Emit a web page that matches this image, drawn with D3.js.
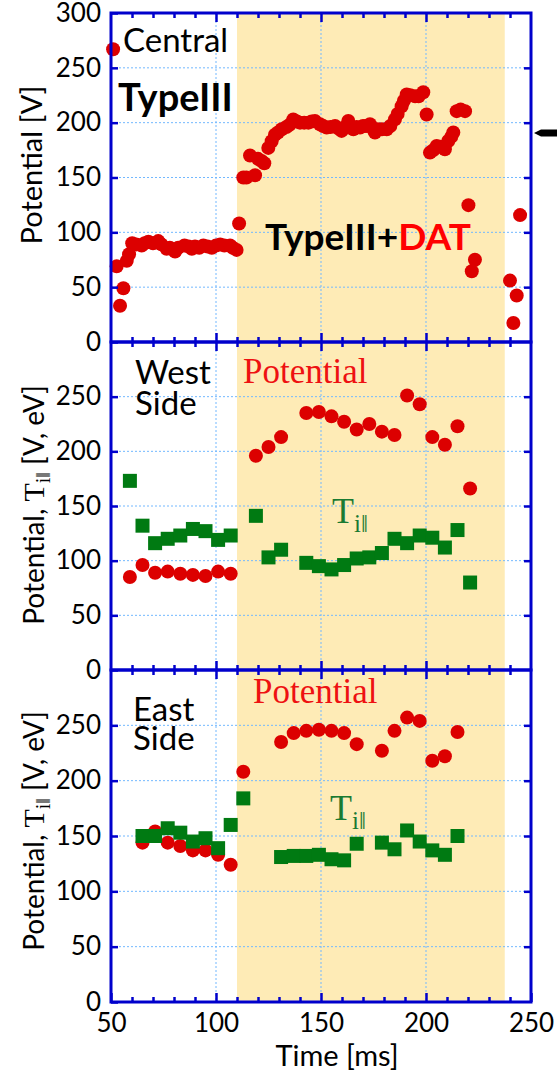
<!DOCTYPE html>
<html>
<head>
<meta charset="utf-8">
<script src="https://cdn.jsdelivr.net/npm/d3@7"></script>
<style>
  body { margin: 0; background: #fff; }
  svg { display: block; }
</style>
</head>
<body>
<svg id="chart" width="557" height="1074"></svg>
<script>
// ── Data ──
const centralT = [51, 52.7, 54.3, 55.9, 57.5, 58.6, 60.1, 62, 64.6, 66, 67.8, 70, 72.5, 74, 76.5, 78, 80.5, 82, 85, 87,
  88.5, 90, 92, 94, 96, 98, 100, 102, 104, 106.7, 108, 109.8, 111, 113, 114.5, 116.2, 118.6, 120, 121.7, 123,
  124.9, 126.5, 128.1, 129.5, 131.3, 133.5, 135, 136.8, 138.5, 140, 142, 144, 145.5, 147.1, 149.5, 151, 152.7, 154.5, 156.7, 158,
  159.8, 161.5, 163, 165.4, 167, 168.6, 170, 171.5, 173.3, 174.9, 175.7, 177, 179, 181.3, 183, 185.2, 186.5, 188.4, 189.5, 190.8,
  192.5, 194.8, 196.5, 198.7, 200.3, 201.9, 203.5, 205.1, 207, 209, 210.6, 212, 213, 214.6, 216.5, 218.6, 220.2, 221.8, 223.3,
  240, 241.6, 243.2, 244.8];
const centralV = [267, 69, 33, 49, 74, 80, 90, 89, 88, 90, 91.5, 90, 92, 89, 85, 86, 82.5, 86, 88, 87,
  85, 87, 86, 88, 87, 86, 88, 89, 88, 88, 86, 84, 108, 150, 150, 170, 152, 167, 165, 163,
  177, 183, 189, 191, 194, 196, 198, 203, 201, 200, 200, 200, 201, 201.5, 198.5, 197, 195.5, 196, 197, 195,
  192.5, 196, 201.5, 194, 196, 195.5, 197, 197, 198.5, 194, 191, 194, 194, 194, 197, 203, 208, 215, 220, 225.7,
  225, 224, 224, 227.8, 207.5, 172.7, 175, 178.8, 178, 175.7, 183.3, 187, 191, 210.5, 212, 210.5, 124.8, 64.5, 75,
  56, 17.3, 42.4, 115.7];

const westT   = [59, 65, 71, 77, 83, 89, 95, 101, 107, 119, 125, 131, 143, 149, 155, 161, 167, 173, 179, 185, 191, 197, 203, 209, 215, 221];
const westPot = [85, 96, 89, 90, 88, 87, 86, 90, 88, 196, 204, 213, 235, 236, 232, 227, 220, 225, 218, 215, 251, 243, 213, 206, 223, 166];
const westTi  = [173, 132, 116, 120, 123, 129, 127, 119, 123, 141, 103, 110, 98, 95, 92, 96, 102, 103, 107, 120, 116, 123, 121, 112, 128, 80];

const eastT   = [65, 71, 77, 83, 89, 95, 101, 107, 113, 131, 137, 143, 149, 155, 161, 167, 179, 185, 191, 197, 203, 209, 215];
const eastPot = [144, 154, 144, 141, 137, 137, 133, 124, 208, 235, 243, 245, 246, 245, 243, 233, 227, 245, 257, 254, 218, 222, 244];
const eastTi  = [150, 150, 157, 153, 145, 148, 139, 160, 184, 131, 132, 132, 133, 129, 128, 143, 144, 138, 155, 145, 137, 133, 150];

const datWindow = [110, 237.5];          // shaded TypeIII+DAT period [ms]
const xMajor = [50, 100, 150, 200, 250];
const xMinor = d3.range(60, 250, 10).filter(v => v % 50 !== 0);
const xGrid = [100, 150, 200];
const yGrid = [50, 100, 150, 200, 250];

// ── Styles ──
const BLUE = '#0000cc', RED = '#dc0000', GREEN = '#007a12';
const SANS = 'Lato, "Open Sans", sans-serif';
const SERIF = '"Liberation Serif", "DejaVu Serif", serif';

const svg = d3.select('#chart');
const x = d3.scaleLinear().domain([50, 250]).range([111, 531]);

const panels = [
  { key: 'central', top: 13, bottom: 342, yTicks: [0, 50, 100, 150, 200, 250, 300] },
  { key: 'west', top: 342, bottom: 670, yTicks: [0, 50, 100, 150, 200, 250] },
  { key: 'east', top: 670, bottom: 1002, yTicks: [0, 50, 100, 150, 200, 250] }
];
panels.forEach(p => { p.y = d3.scaleLinear().domain([0, 300]).range([p.bottom, p.top]); });

// ── Shaded DAT window ──
svg.append('rect')
  .attr('x', x(datWindow[0])).attr('y', panels[0].top)
  .attr('width', x(datWindow[1]) - x(datWindow[0]))
  .attr('height', panels[2].bottom - panels[0].top)
  .attr('fill', '#feebb6');

// ── Grids ──
panels.forEach(p => {
  const g = svg.append('g').attr('stroke', '#72b8ff').attr('stroke-width', 1).attr('stroke-dasharray', '2,2');
  g.selectAll('.gy').data(yGrid).join('line')
    .attr('x1', x(50)).attr('x2', x(250))
    .attr('y1', d => p.y(d)).attr('y2', d => p.y(d));
  g.selectAll('.gx').data(xGrid).join('line')
    .attr('x1', d => x(d)).attr('x2', d => x(d))
    .attr('y1', p.top).attr('y2', p.bottom);
});

// ── Marks ──
function circles(p, ts, vs) {
  svg.append('g').selectAll('circle').data(ts).join('circle')
    .attr('cx', d => x(d)).attr('cy', (d, i) => p.y(vs[i]))
    .attr('r', 7).attr('fill', RED);
}
function squares(p, ts, vs) {
  const s = 14;
  svg.append('g').selectAll('rect').data(ts).join('rect')
    .attr('x', d => x(d) - s / 2).attr('y', (d, i) => p.y(vs[i]) - s / 2)
    .attr('width', s).attr('height', s).attr('fill', GREEN);
}
circles(panels[0], centralT, centralV);
circles(panels[1], westT, westPot);
squares(panels[1], westT, westTi);
circles(panels[2], eastT, eastPot);
squares(panels[2], eastT, eastTi);

// ── Axes / frames ──
function styleAxis(sel) {
  sel.select('.domain').remove();
  sel.selectAll('.tick line').attr('stroke', BLUE).attr('stroke-width', 2.5);
  sel.selectAll('.tick text').attr('fill', '#000').attr('font-family', SANS).attr('font-size', 26);
}
panels.forEach((p, i) => {
  const last = i === panels.length - 1;
  svg.append('g').attr('transform', `translate(${x(50)},0)`)
    .call(d3.axisLeft(p.y).tickValues(p.yTicks).tickSizeInner(-7).tickSizeOuter(0).tickPadding(10).tickFormat(d3.format('d')))
    .call(styleAxis);
  svg.append('g').attr('transform', `translate(${x(250)},0)`)
    .call(d3.axisRight(p.y).tickValues(yGrid).tickSizeInner(-7).tickSizeOuter(0).tickFormat(''))
    .call(styleAxis);
  svg.append('g').attr('transform', `translate(0,${p.top})`)
    .call(d3.axisTop(x).tickValues(xMinor).tickSizeInner(-5).tickSizeOuter(0).tickFormat(''))
    .call(styleAxis);
  svg.append('g').attr('transform', `translate(0,${p.top})`)
    .call(d3.axisTop(x).tickValues(xGrid).tickSizeInner(-9).tickSizeOuter(0).tickFormat(''))
    .call(styleAxis);
  svg.append('g').attr('transform', `translate(0,${p.bottom})`)
    .call(d3.axisBottom(x).tickValues(xMinor).tickSizeInner(-5).tickSizeOuter(0).tickFormat(''))
    .call(styleAxis);
  svg.append('g').attr('transform', `translate(0,${p.bottom})`)
    .call(d3.axisBottom(x).tickValues(last ? xMajor : xGrid).tickSizeInner(-9).tickSizeOuter(0).tickPadding(12)
      .tickFormat(last ? d3.format('d') : ''))
    .call(styleAxis);
  svg.append('rect')
    .attr('x', x(50)).attr('y', p.top).attr('width', x(250) - x(50)).attr('height', p.bottom - p.top)
    .attr('fill', 'none').attr('stroke', BLUE).attr('stroke-width', 3);
});

// ── Axis titles ──
svg.append('text').text('Time [ms]')
  .attr('x', 337).attr('y', 1066).attr('text-anchor', 'middle')
  .attr('font-family', SANS).attr('font-size', 29);

svg.append('text').text('Potential [V]')
  .attr('transform', 'translate(42,165) rotate(-90)').attr('text-anchor', 'middle')
  .attr('font-family', SANS).attr('font-size', 29);

[[panels[1], 505], [panels[2], 831]].forEach(([p, cy]) => {
  const t = svg.append('text')
    .attr('transform', `translate(44,${cy}) rotate(-90)`).attr('text-anchor', 'middle')
    .attr('font-family', SANS).attr('font-size', 28);
  t.append('tspan').text('Potential, ');
  t.append('tspan').text('T').attr('font-family', SERIF).attr('font-size', 30);
  t.append('tspan').text('i‖').attr('font-family', SERIF).attr('font-size', 20).attr('dy', 6);
  t.append('tspan').text(' [V, eV]').attr('dy', -6);
});

// ── Annotations ──
function label(txt, px, py, opts = {}) {
  return svg.append('text').text(txt).attr('x', px).attr('y', py)
    .attr('font-family', opts.font || SANS).attr('font-size', opts.size || 30)
    .attr('font-weight', opts.weight || 'normal').attr('fill', opts.color || '#000');
}
function twoLines(l1, l2, px, py, gap) {
  const t = svg.append('text').attr('x', px).attr('y', py)
    .attr('font-family', SANS).attr('font-size', 33).attr('fill', '#000');
  t.append('tspan').text(l1).attr('x', px);
  t.append('tspan').text(l2).attr('x', px).attr('dy', gap);
}
label('Central', 123, 52, { size: 33 });
label('TypeIII', 118, 111, { size: 38, weight: 'bold' });
const td = label('TypeIII+', 265, 250, { size: 37, weight: 'bold' });
td.append('tspan').text('DAT').attr('fill', '#ff0000');

twoLines('West', 'Side', 135, 384, 31);
twoLines('East', 'Side', 133, 721, 29);

label('Potential', 243, 383, { font: SERIF, size: 35, color: '#ee1111' });
label('Potential', 253, 703, { font: SERIF, size: 35, color: '#ee1111' });

[[332, 523], [330, 820]].forEach(([px, py]) => {
  const t = label('T', px, py, { font: SERIF, size: 36, color: '#1a7a32' });
  t.append('tspan').text('i‖').attr('font-size', 25).attr('dy', 9);
});

// cut-off arrow at the right edge
svg.append('path')
  .attr('d', 'M534,133 L541,129.5 L557,129.5 L557,136.5 L541,136.5 Z')
  .attr('fill', '#000');
</script>
</body>
</html>
